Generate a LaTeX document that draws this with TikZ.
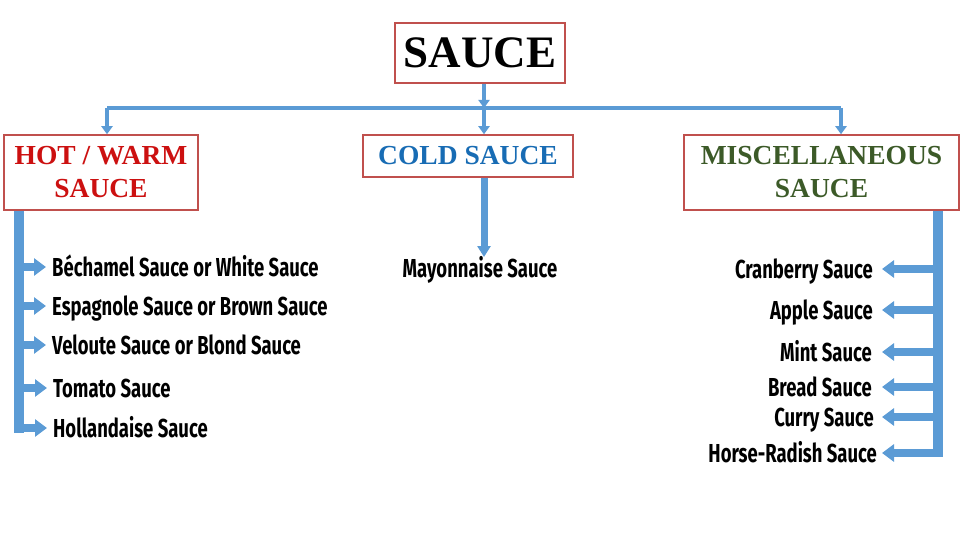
\documentclass[tikz,border=0pt]{standalone}
\usepackage{fontspec}
\setmainfont{Liberation Serif}
\newfontfamily\itemfont[FakeStretch=0.71]{Fira Sans}
\usetikzlibrary{arrows.meta}
\definecolor{boxred}{RGB}{192,80,77}
\definecolor{conblue}{RGB}{91,155,213}
\definecolor{hotred}{RGB}{204,16,16}
\definecolor{coldblue}{RGB}{24,108,180}
\definecolor{miscgreen}{RGB}{60,90,40}
\tikzset{
  catbox/.style={draw=boxred, line width=1.5pt, fill=white, inner sep=0pt, align=center,
    font=\fontsize{27.5}{33}\selectfont\bfseries},
  bus/.style={conblue, line width=4pt},
  drop/.style={conblue, line width=4pt, -{Triangle[length=8pt,width=11pt]}},
  stemline/.style={conblue, line width=10pt},
  branch/.style={conblue, line width=8pt, -{Triangle[length=12pt,width=17pt]}},
  coldarrow/.style={conblue, line width=7pt, -{Triangle[length=11pt,width=13pt]}},
  saucelist/.style={inner sep=0pt, text height=18pt, text depth=0pt,
    font=\itemfont\fontsize{26}{30}\selectfont\bfseries}
}
\begin{document}
\begin{tikzpicture}[x=1pt,y=-1pt]
\useasboundingbox (0,0) rectangle (960,540);
% category boxes
\node[catbox, minimum width=170pt, minimum height=60pt, font=\fontsize{45}{50}\selectfont\bfseries] (sauce) at (480,53) {SAUCE};
\node[catbox, minimum width=194pt, minimum height=75pt, text=hotred] (hot) at (101,172.5) {HOT / WARM\\SAUCE};
\node[catbox, minimum width=210pt, minimum height=42pt, text=coldblue] (cold) at (468,156) {COLD SAUCE};
\node[catbox, minimum width=275pt, minimum height=75pt, text=miscgreen] (misc) at (821.5,172.5) {MISCELLANEOUS\\SAUCE};
% bus junctions
\coordinate (hj) at (107,108);
\coordinate (cj) at (484,108);
\coordinate (mj) at (841,108);
\draw[drop] (sauce.south -| cj) -- (cj);
\draw[bus] (hj) -- (mj);
\draw[drop] (hj) -- (hot.north -| hj);
\draw[drop] (cj) -- (cold.north -| cj);
\draw[drop] (mj) -- (misc.north -| mj);
% hot list
\node[saucelist, anchor=west] (h1) at (52,267) {Béchamel Sauce or White Sauce};
\node[saucelist, anchor=west] (h2) at (52,306) {Espagnole Sauce or Brown Sauce};
\node[saucelist, anchor=west] (h3) at (52,345) {Veloute Sauce or Blond Sauce};
\node[saucelist, anchor=west] (h4) at (53,388) {Tomato Sauce};
\node[saucelist, anchor=west] (h5) at (53,428) {Hollandaise Sauce};
\coordinate (ls) at (18.5,433);
\draw[stemline] (hot.south -| ls) -- (ls);
\foreach \n in {h1,h2,h3,h4,h5}{
  \draw[branch] (\n.west -| ls) -- ([xshift=-6pt]\n.west);
}
% cold list
\node[saucelist, anchor=center] (c1) at (480,268) {Mayonnaise Sauce};
\coordinate (ct) at (484,257);
\draw[coldarrow] (cold.south -| ct) -- (ct);
% misc list
\node[saucelist, anchor=east] (m1) at (873,269) {Cranberry Sauce};
\node[saucelist, anchor=east] (m2) at (873,310) {Apple Sauce};
\node[saucelist, anchor=east] (m3) at (872,352) {Mint Sauce};
\node[saucelist, anchor=east] (m4) at (872,387) {Bread Sauce};
\node[saucelist, anchor=east] (m5) at (874,417) {Curry Sauce};
\node[saucelist, anchor=east] (m6) at (877,453) {Horse-Radish Sauce};
\coordinate (rs) at (938,457);
\draw[stemline] (misc.south -| rs) -- (rs);
\draw[branch] (m1.east -| rs) -- ([xshift=9pt]m1.east);
\draw[branch] (m2.east -| rs) -- ([xshift=9pt]m2.east);
\draw[branch] (m3.east -| rs) -- ([xshift=10pt]m3.east);
\draw[branch] (m4.east -| rs) -- ([xshift=10pt]m4.east);
\draw[branch] (m5.east -| rs) -- ([xshift=8pt]m5.east);
\draw[branch] (m6.east -| rs) -- ([xshift=5pt]m6.east);
\end{tikzpicture}
\end{document}
